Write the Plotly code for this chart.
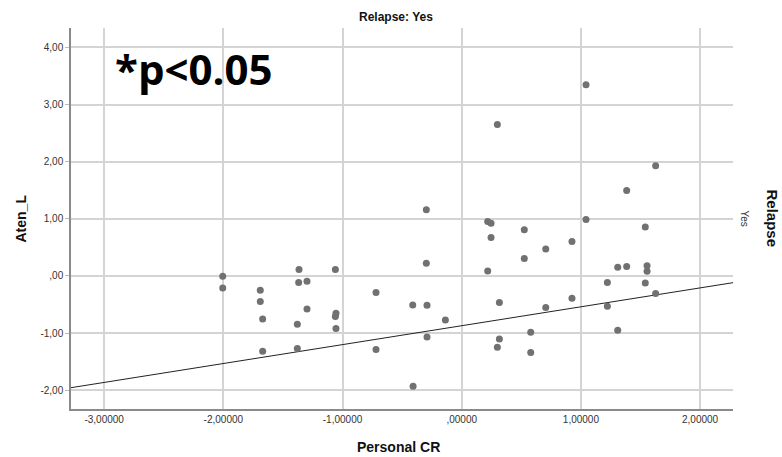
import plotly.graph_objects as go

# ---- data ----
personal_cr = [
    -2.005, -2.005, -1.690, -1.690, -1.670, -1.670, -1.365, -1.368, -1.298, -1.298,
    -1.379, -1.379, -1.060, -1.055, -1.060, -1.055, -0.719, -0.719,
    -0.297, 0.218, 0.246, 0.525, 0.246, -0.297, 0.525, 0.218, -0.411, -0.291,
    -0.137, 0.316, -0.291, -0.408, 0.316, 0.299, 0.579, 0.579,
    1.627, 1.384, 1.043, 1.540, 0.925, 0.705, 1.309, 1.384, 1.555, 1.555,
    1.222, 1.540, 1.627, 0.925, 0.705, 1.222, 1.309,
    0.299, 1.043,
]
aten_l = [
    -0.005, -0.210, -0.250, -0.450, -0.753, -1.319, 0.110, -0.117, -0.093, -0.578,
    -0.846, -1.273, 0.110, -0.654, -0.712, -0.922, -0.292, -1.290,
    1.156, 0.951, 0.922, 0.806, 0.671, 0.222, 0.303, 0.088, -0.508, -0.513,
    -0.771, -0.467, -1.068, -1.932, -1.103, -1.249, -0.986, -1.343,
    1.930, 1.494, 0.986, 0.858, 0.601, 0.473, 0.152, 0.163, 0.180, 0.082,
    -0.117, -0.123, -0.310, -0.391, -0.555, -0.531, -0.951,
    2.650, 3.345,
]
fit_intercept = -0.872
fit_slope = 0.331

x_range = [-3.278, 2.276]
y_range = [-2.33, 4.34]

x_tickvals = [-3, -2, -1, 0, 1, 2]
x_ticktext = ["-3,00000", "-2,00000", "-1,00000", ",00000", "1,00000", "2,00000"]
y_tickvals = [4, 3, 2, 1, 0, -1, -2]
y_ticktext = ["4,00", "3,00", "2,00", "1,00", ",00", "-1,00", "-2,00"]

fit_x = list(x_range)
fit_y = [fit_intercept + fit_slope * v for v in fit_x]

FONT = "Liberation Sans, Arial, sans-serif"

fig = go.Figure()
fig.add_trace(go.Scatter(
    x=fit_x, y=fit_y, mode="lines",
    line=dict(color="#222222", width=1), hoverinfo="skip", showlegend=False,
))
fig.add_trace(go.Scatter(
    x=personal_cr, y=aten_l, mode="markers",
    marker=dict(color="#717171", size=7, line=dict(width=0)),
    showlegend=False,
))

fig.update_layout(
    width=782, height=457,
    margin=dict(l=71, r=49, t=28, b=48),
    paper_bgcolor="white", plot_bgcolor="white",
    font=dict(family=FONT, color="#333333", size=10),
    xaxis=dict(
        range=x_range, tickvals=x_tickvals, ticktext=x_ticktext,
        showgrid=True, gridcolor="#d4d4d4", gridwidth=1.5,
        zeroline=False, showline=True, linecolor="#8a8a8a", linewidth=1.5,
        ticks="", tickfont=dict(size=10, color="#333333"),
    ),
    yaxis=dict(
        range=y_range, tickvals=y_tickvals, ticktext=y_ticktext,
        showgrid=True, gridcolor="#d4d4d4", gridwidth=1.5,
        zeroline=False, showline=True, linecolor="#8a8a8a", linewidth=1.5,
        ticks="outside", ticklen=4, tickcolor="#bbbbbb", tickwidth=1,
        tickfont=dict(size=10, color="#333333"),
    ),
    annotations=[
        dict(text="<b>Relapse: Yes</b>", xref="paper", yref="paper", x=0.491, y=1,
             xanchor="center", yanchor="middle", yshift=11, showarrow=False,
             font=dict(family=FONT, size=12, color="#111111")),
        dict(text="<b>Personal CR</b>", xref="paper", yref="paper", x=0.494, y=0,
             xanchor="center", yanchor="middle", yshift=-38, showarrow=False,
             font=dict(family=FONT, size=14, color="#111111")),
        dict(text="<b>Aten_L</b>", xref="paper", yref="paper", x=0, y=0.5,
             xanchor="center", yanchor="middle", xshift=-51, showarrow=False,
             textangle=-90, font=dict(family=FONT, size=14, color="#111111")),
        dict(text="<b>Relapse</b>", xref="paper", yref="paper", x=1, y=0.5,
             xanchor="center", yanchor="middle", xshift=39, showarrow=False,
             textangle=90, font=dict(family=FONT, size=15, color="#111111")),
        dict(text="Yes", xref="paper", yref="paper", x=1, y=0.5,
             xanchor="center", yanchor="middle", xshift=11, showarrow=False,
             textangle=90, font=dict(family=FONT, size=10, color="#333333")),
        dict(text="<b>*p&lt;0.05</b>", xref="paper", yref="paper", x=0, y=1,
             xanchor="left", yanchor="middle", xshift=42, yshift=-40, showarrow=False,
             font=dict(family="Open Sans, sans-serif", size=42, color="#000000")),
    ],
)

fig.write_html(
    "out.html",
    config={"displayModeBar": False},
    post_script="document.body.style.margin='0';document.body.style.overflow='hidden';",
)
